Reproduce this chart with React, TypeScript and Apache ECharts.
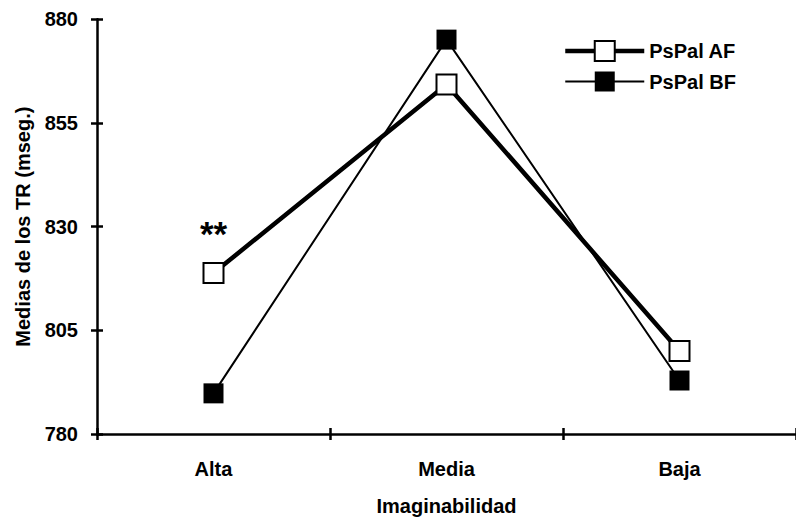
import React, { useEffect, useRef } from "react";
import * as echarts from "echarts";

const categories = ["Alta", "Media", "Baja"];
const afValues = [818.8, 864.3, 800.0];
const bfValues = [789.8, 875.1, 792.9];
const afMarks = ["**", "", ""];
const yTicks = { min: 780, max: 880, interval: 25 };

const FONT = "'Liberation Sans', Arial, sans-serif";

export default function App() {
  const ref = useRef<HTMLDivElement>(null);
  useEffect(() => {
    if (!ref.current) return;
    const chart = echarts.init(ref.current, null, { renderer: "svg" });
    const txt = { fontFamily: FONT, fontWeight: "bold" as const, fontSize: 20, color: "#000" };
    const afData = afValues.map((v, i) =>
      afMarks[i]
        ? {
            value: v,
            label: {
              show: true,
              formatter: afMarks[i],
              position: "top",
              distance: 11,
              fontFamily: FONT,
              fontWeight: "bold",
              fontSize: 35,
              color: "#000",
            },
          }
        : v
    );
    chart.setOption({
      animation: false,
      backgroundColor: "#fff",
      grid: { left: 97, top: 19.3, width: 702, height: 417.4, containLabel: false },
      legend: {
        orient: "vertical",
        left: 563,
        top: 40,
        padding: 0,
        itemWidth: 79,
        itemHeight: 25,
        itemGap: 9.5,
        textStyle: { ...txt },
        data: [
          { name: "PsPal AF", lineStyle: { color: "#000", width: 4.5 } },
          { name: "PsPal BF", lineStyle: { color: "#000", width: 2.2 } },
        ],
      },
      xAxis: [
        {
          type: "category",
          data: categories,
          boundaryGap: true,
          position: "bottom",
          axisLine: { lineStyle: { color: "#000", width: 2.5 } },
          axisTick: { show: true, length: 6, lineStyle: { color: "#000", width: 2.5 } },
          axisLabel: { ...txt, margin: 25 },
          name: "Imaginabilidad",
          nameLocation: "middle",
          nameGap: 62,
          nameTextStyle: { ...txt },
          splitLine: { show: false },
        },
        {
          type: "category",
          data: categories,
          boundaryGap: true,
          position: "bottom",
          axisLine: { show: false },
          axisTick: { show: true, inside: true, length: 6, lineStyle: { color: "#000", width: 2.5 } },
          axisLabel: { show: false },
          splitLine: { show: false },
        },
      ],
      yAxis: [
        {
          type: "value",
          min: yTicks.min,
          max: yTicks.max,
          interval: yTicks.interval,
          axisLine: { show: true, lineStyle: { color: "#000", width: 2.5 } },
          axisTick: { show: true, length: 6, lineStyle: { color: "#000", width: 2.5 } },
          axisLabel: { ...txt, margin: 19 },
          splitLine: { show: false },
          name: "Medias de los TR (mseg.)",
          nameLocation: "middle",
          nameGap: 64,
          nameTextStyle: { ...txt },
        },
        {
          type: "value",
          min: yTicks.min,
          max: yTicks.max,
          interval: yTicks.interval,
          position: "left",
          axisLine: { show: false },
          axisTick: { show: true, inside: true, length: 6, lineStyle: { color: "#000", width: 2.5 } },
          axisLabel: { show: false },
          splitLine: { show: false },
        },
      ],
      series: [
        {
          name: "PsPal AF",
          type: "line",
          data: afData,
          symbol: "rect",
          symbolSize: 20,
          itemStyle: { color: "#fff", borderColor: "#000", borderWidth: 2 },
          lineStyle: { color: "#000", width: 4.5 },
          z: 3,
        },
        {
          name: "PsPal BF",
          type: "line",
          data: bfValues,
          symbol: "rect",
          symbolSize: 20,
          itemStyle: { color: "#000", borderColor: "#000", borderWidth: 0 },
          lineStyle: { color: "#000", width: 2 },
          z: 2,
        },
      ],
    });
    return () => chart.dispose();
  }, []);
  return (
    <div
      ref={ref}
      style={{ position: "fixed", left: 0, top: 0, width: 796, height: 521, background: "#fff" }}
    />
  );
}
